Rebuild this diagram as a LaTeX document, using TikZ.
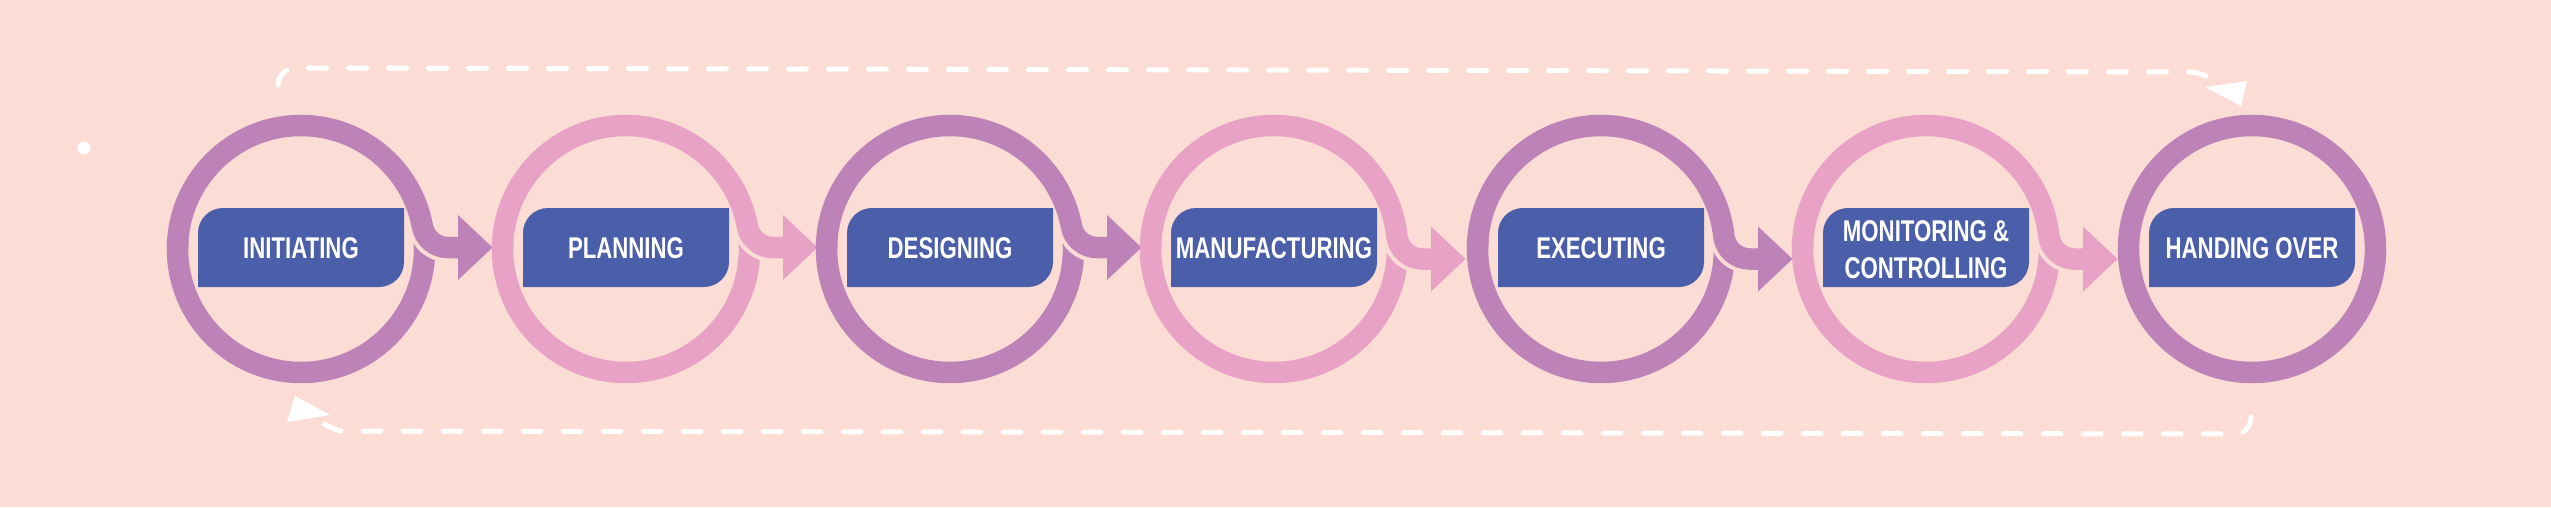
\documentclass[tikz,border=0pt]{standalone}
\usepackage{fontspec}
\newfontfamily\lblfont[FakeStretch=0.74]{Liberation Sans}
\usetikzlibrary{calc}
\definecolor{bg}{HTML}{FBDDD5}
\definecolor{pur}{HTML}{BD82B8}
\definecolor{pnk}{HTML}{E8A2C6}
\definecolor{boxblue}{HTML}{4A5EAA}
\tikzset{
  ring/.style={line width=21.5pt},
  halo/.style={line width=29.5pt, draw=bg},
  lbl/.style={text=white, font=\lblfont\bfseries\fontsize{30}{37}\selectfont, align=center, inner sep=0pt},
  dashline/.style={draw=white, line width=5pt, line cap=round, dash pattern=on 18pt off 22pt},
}
\begin{document}
\begin{tikzpicture}[x=1pt,y=1pt]
\fill[bg] (0,0) rectangle (2551,507);
\useasboundingbox (0,0) rectangle (2551,507);

% rings with outgoing arrows
\foreach \i/\cx/\col/\sy in {1/301/pur/259.5, 2/626/pnk/259.5, 3/950/pur/259.5, 4/1274/pnk/248, 5/1601/pur/248, 6/1926/pnk/248} {
  \pgfmathsetmacro\al{asin((26-(258-\sy))/149.5)}
  \coordinate (c\i) at (\cx,258);
  \draw[ring,\col] ($(c\i)+(5:123.5pt)$) arc[start angle=5, end angle=-185, radius=123.5pt];
  \draw[halo] ($(c\i)+(\al:123.5pt)$) arc[start angle=180+\al, end angle=270, radius=26pt] -- (\cx+157,\sy);
  \draw[ring,\col] ($(c\i)+(180:123.5pt)$) arc[start angle=180, end angle=\al, radius=123.5pt]
      arc[start angle=180+\al, end angle=270, radius=26pt] -- (\cx+157,\sy);
  \fill[\col] (\cx+157,\sy+32.5) -- (\cx+191.5,\sy) -- (\cx+157,\sy-32.5) -- cycle;
}
\coordinate (c7) at (2252,258);
\draw[ring,pur] (c7) circle[radius=123.5pt];

% label boxes
\foreach \cx in {301,626,950,1274,1601,1926,2252} {
  \fill[boxblue] (\cx-103,220) -- (\cx-103,274) arc[start angle=180,end angle=90,radius=25pt]
     -- (\cx+103,299) -- (\cx+103,245) arc[start angle=0,end angle=-90,radius=25pt] -- cycle;
}
\node[lbl] (t1) at (301,258.5) {INITIATING};
\node[lbl] (t2) at (626,258.5) {PLANNING};
\node[lbl] (t3) at (950,258.5) {DESIGNING};
\node[lbl] (t4) at (1274,258.5) {MANUFACTURING};
\node[lbl] (t5) at (1601,258.5) {EXECUTING};
\node[lbl] (t6) at (1926,257) {MONITORING \&\\CONTROLLING};
\node[lbl] (t7) at (2252,258.5) {HANDING OVER};

% dashed feedback loops
\coordinate (ts) at (278,422);
\coordinate (te) at (2212,429);
\draw[dashline] (ts) to[out=90,in=180] (296,439) -- (2190,435) to[out=0,in=165] (te);
\fill[white] (2205,420) -- (2247,426) -- (2241,401) -- cycle;
\coordinate (bs) at (2251,90);
\coordinate (be) at (318,85);
\draw[dashline] (bs) to[out=-90,in=0] (2236,73) -- (345,76) to[out=180,in=-15] (be);
\fill[white] (295,111) -- (330,92) -- (287,85) -- cycle;

% small dot
\fill[white] (84,359) circle[radius=6.5pt];
\end{tikzpicture}
\end{document}
